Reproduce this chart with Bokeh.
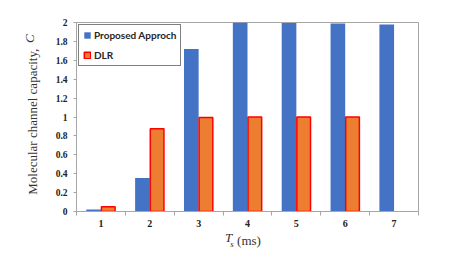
import math
from bokeh.plotting import figure
from bokeh.models import (ColumnDataSource, Range1d, FixedTicker, Legend, LegendItem,
                          LinearAxis)
from bokeh.transform import dodge
from bokeh.embed import file_html
from bokeh.resources import INLINE

# ---- data ----
categories = [1, 2, 3, 4, 5, 6, 7]
proposed = [0.02, 0.355, 1.72, 2.0, 1.995, 1.99, 1.98]
dlr_categories = [1, 2, 3, 4, 5, 6]
dlr = [0.05, 0.875, 0.995, 1.0, 1.0, 1.0]
y_ticks = [0, 0.2, 0.4, 0.6, 0.8, 1.0, 1.2, 1.4, 1.6, 1.8, 2.0]
y_tick_labels = ["0", "0.2", "0.4", "0.6", "0.8", "1", "1.2", "1.4", "1.6", "1.8", "2"]
x_tick_labels = ["1", "2", "3", "4", "5", "6", "7"]
x_boundaries = [0.5, 1.5, 2.5, 3.5, 4.5, 5.5, 6.5, 7.5]
series_names = ["Proposed Approch", "DLR"]
y_title_parts = ["Molecular channel capacity,", "C"]
x_title_parts = ["T", "s", "(ms)"]

BLUE = "#4472C4"
ORANGE = "#ED7D31"
RED = "#FF0000"
AXIS = "#A6A6A6"
SERIF = "Liberation Serif"
TITLE_COLOR = "#333333"

p = figure(frame_width=342, frame_height=189, output_backend="svg", toolbar_location=None,
           x_range=Range1d(0.5, 7.5), y_range=Range1d(0, 2),
           min_border_left=76, min_border_right=25, min_border_top=22, min_border_bottom=10)
p.background_fill_color = "white"
p.border_fill_color = "white"
p.outline_line_color = AXIS
p.xgrid.visible = False
p.ygrid.visible = False

src_a = ColumnDataSource(dict(x=categories, top=proposed))
src_b = ColumnDataSource(dict(x=dlr_categories, top=dlr))

r_a = p.vbar(x=dodge("x", -0.15, range=p.x_range), top="top", width=0.3, source=src_a,
             fill_color=BLUE, line_color=None)
r_b = p.vbar(x=dodge("x", 0.15, range=p.x_range), top="top", width=0.28, source=src_b,
             fill_color=ORANGE, line_color=RED, line_width=1.5)

# x axis
xa = p.xaxis[0]
xa.ticker = FixedTicker(ticks=categories, minor_ticks=x_boundaries)
xa.major_label_overrides = {c: t for c, t in zip(categories, x_tick_labels)}
xa.axis_line_color = AXIS
xa.major_tick_line_color = None
xa.major_tick_out = 0
xa.major_tick_in = 0
xa.minor_tick_line_color = AXIS
xa.minor_tick_out = 4
xa.minor_tick_in = 0
xa.major_label_standoff = 4
xa.major_label_text_font = SERIF
xa.major_label_text_font_style = "bold"
xa.major_label_text_font_size = "10px"
xa.major_label_text_color = "#222222"

# y axis
ya = p.yaxis[0]
ya.ticker = FixedTicker(ticks=y_ticks)
ya.major_label_overrides = {t: s for t, s in zip(y_ticks, y_tick_labels)}
ya.axis_line_color = AXIS
ya.major_tick_line_color = AXIS
ya.major_tick_out = 3
ya.major_tick_in = 0
ya.minor_tick_line_color = None
ya.major_label_standoff = 6
ya.major_label_text_font = SERIF
ya.major_label_text_font_style = "bold"
ya.major_label_text_font_size = "9.5px"
ya.major_label_text_color = "#222222"


def title_axis(pos, text, size, style, standoff, orientation="horizontal"):
    ax = LinearAxis(ticker=FixedTicker(ticks=[pos], minor_ticks=[]),
                    major_label_overrides={pos: text})
    ax.axis_line_color = None
    ax.major_tick_line_color = None
    ax.minor_tick_line_color = None
    ax.major_tick_out = 0
    ax.major_tick_in = 0
    ax.minor_tick_out = 0
    ax.minor_tick_in = 0
    ax.major_label_standoff = standoff
    ax.major_label_orientation = orientation
    ax.major_label_text_font = SERIF
    ax.major_label_text_font_style = style
    ax.major_label_text_font_size = size
    ax.major_label_text_color = TITLE_COLOR
    return ax


# y title: "Molecular channel capacity," + italic "C", on one line
p.add_layout(title_axis(0.95, y_title_parts[0], "13px", "normal", 12, "vertical"), "left")
p.add_layout(title_axis(1.83, y_title_parts[1], "13px", "italic", -15, "vertical"), "left")

# x title: italic "T", subscript italic "s", "(ms)"
p.add_layout(title_axis(3.611, x_title_parts[0], "13px", "italic", 0), "below")
p.add_layout(title_axis(4.03, x_title_parts[2], "13px", "normal", -15), "below")
p.add_layout(title_axis(3.683, x_title_parts[1], "9px", "italic", -12), "below")

legend = Legend(items=[LegendItem(label=series_names[0], renderers=[r_a]),
                       LegendItem(label=series_names[1], renderers=[r_b])],
                location="top_left")
legend.margin = 2
legend.padding = 4
legend.spacing = 8
legend.glyph_width = 8
legend.glyph_height = 8
legend.label_height = 12
legend.label_standoff = 3
legend.label_text_font = "Lato"
legend.label_text_font_style = "bold"
legend.label_text_font_size = "10px"
legend.label_text_color = "#262626"
legend.border_line_color = "black"
legend.border_line_width = 1
legend.background_fill_color = "white"
legend.background_fill_alpha = 1
p.add_layout(legend)

open("out.html", "w").write(file_html(p, INLINE))
